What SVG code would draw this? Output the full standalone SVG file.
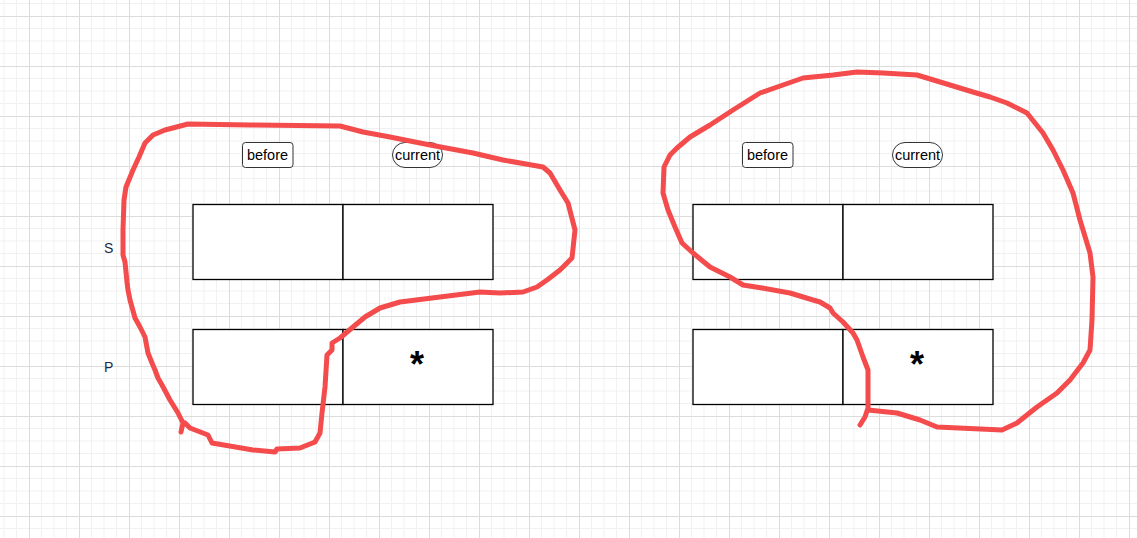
<svg xmlns="http://www.w3.org/2000/svg" width="1137" height="538" viewBox="0 0 1137 538">
  <style>
    .cell { fill: #ffffff; stroke: #000000; stroke-width: 1.3; }
    .tag { fill: #ffffff; stroke: #333333; stroke-width: 1; }
    .tagtext { font-family: "Liberation Sans", Arial, sans-serif; font-size: 14.5px; fill: #000000; text-anchor: middle; }
    .rowlabel { font-family: "Liberation Sans", Arial, sans-serif; font-size: 14px; fill: #1b2a4a; }
    .star { font-family: "Liberation Sans", Arial, sans-serif; font-size: 36px; font-weight: bold; fill: #000000; text-anchor: middle; }
    .ink { fill: none; stroke: #f44c4c; stroke-width: 5; stroke-linecap: round; stroke-linejoin: round; }
  </style>
  <defs>
    <pattern id="grid" patternUnits="userSpaceOnUse" x="29" y="16" width="50" height="50">
      <rect width="50" height="50" fill="#ffffff"/>
      <path d="M12.5 0V50M25 0V50M37.5 0V50M0 12.5H50M0 25H50M0 37.5H50" stroke="#f1f1f1" stroke-width="1"/>
      <path d="M0.5 0V50M0 0.5H50" stroke="#dcdcdc" stroke-width="1"/>
    </pattern>
  </defs>
  <rect width="1137" height="538" fill="url(#grid)"/>

  <g id="label-S"><text class="rowlabel" x="104" y="253">S</text></g>
  <g id="label-P"><text class="rowlabel" x="104" y="372">P</text></g>

  <g id="left-before-tag">
    <rect class="tag" x="242.5" y="142.5" width="50.5" height="25" rx="3"/>
    <text class="tagtext" x="267.5" y="160">before</text>
  </g>
  <g id="left-current-tag">
    <rect class="tag" x="392.5" y="142.5" width="50" height="25" rx="12.5"/>
    <text class="tagtext" x="417.5" y="160">current</text>
  </g>
  <g id="left-S-before"><rect class="cell" x="193" y="204.5" width="150" height="75"/></g>
  <g id="left-S-current"><rect class="cell" x="343" y="204.5" width="150" height="75"/></g>
  <g id="left-P-before"><rect class="cell" x="193" y="329.5" width="150" height="75"/></g>
  <g id="left-P-current">
    <rect class="cell" x="343" y="329.5" width="150" height="75"/>
    <text class="star" x="417" y="377">*</text>
  </g>

  <g id="right-before-tag">
    <rect class="tag" x="742.5" y="142.5" width="50.5" height="25" rx="3"/>
    <text class="tagtext" x="767.5" y="160">before</text>
  </g>
  <g id="right-current-tag">
    <rect class="tag" x="892.5" y="142.5" width="50" height="25" rx="12.5"/>
    <text class="tagtext" x="917.5" y="160">current</text>
  </g>
  <g id="right-S-before"><rect class="cell" x="693" y="204.5" width="150" height="75"/></g>
  <g id="right-S-current"><rect class="cell" x="843" y="204.5" width="150" height="75"/></g>
  <g id="right-P-before"><rect class="cell" x="693" y="329.5" width="150" height="75"/></g>
  <g id="right-P-current">
    <rect class="cell" x="843" y="329.5" width="150" height="75"/>
    <text class="star" x="917" y="377">*</text>
  </g>

  <g id="connectors">
    <polyline class="ink" points="181,432 183,423 178,413 170,400 162,385 158,378 155,370 152,363 148,353 145,337 140,327 135,318 130,300 128,290 127,282 125,262 123,255 123,230 124,200 126,187 133,170 139,157 145,143 153,135 165,130 188,124 250,125 340,126 363,132 390,137 430,145 473,153 503,160 543,167 550,173 560,190 568,203 575,230 572,258 560,270 547,280 537,287 523,292 500,293 480,292 440,297 400,302 380,308 365,317 353,327 340,338 332,343 332,350 327,355 325,387 322,413 320,433 315,442 300,448 277,449 275,452 253,450 212,443 208,435 190,428 185,423"/>
    <polyline class="ink" points="860,425 865,417 868,408 868,370 863,357 857,340 853,333 843,322 833,313 830,308 820,302 813,300 790,293 762,288 743,285 730,277 710,267 693,253 682,243 675,227 668,210 663,193 664,167 670,155 677,148 690,137 710,125 733,110 760,93 783,85 803,78 833,75 857,72 883,73 917,75 950,85 973,92 990,97 1007,103 1027,113 1043,133 1053,150 1063,170 1073,193 1080,220 1090,253 1093,277 1092,320 1090,350 1083,363 1070,380 1057,393 1037,407 1017,423 1002,430 937,427 920,420 897,413 868,410"/>
  </g>
</svg>
